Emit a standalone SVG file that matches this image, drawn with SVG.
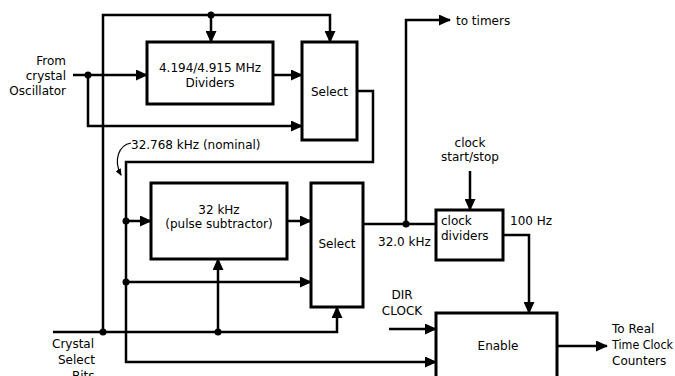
<svg xmlns="http://www.w3.org/2000/svg" width="675" height="376" viewBox="0 0 675 376">
<style>
.box{fill:#fff;stroke:#000;stroke-width:3}
.ln{fill:none;stroke:#000;stroke-width:2.5}
.thin{fill:none;stroke:#000;stroke-width:1.2}
text{font-family:"DejaVu Sans","Liberation Sans",sans-serif;font-size:12px;fill:#000}
.c{text-anchor:middle}
.r{text-anchor:end}
</style>
<defs>
<marker id="ah" markerUnits="userSpaceOnUse" markerWidth="12" markerHeight="11" refX="11" refY="5.5" orient="auto">
<path d="M0,0 L12,5.5 L0,11 z" fill="#000"/>
</marker>
<marker id="sh" markerUnits="userSpaceOnUse" markerWidth="7" markerHeight="6" refX="6" refY="3" orient="auto">
<path d="M0,0 L7,3 L0,6 z" fill="#000"/>
</marker>
</defs>
<rect width="675" height="376" fill="#fff"/>
<g id="connectors">
<path class="ln" d="M103,332 V15 H330 V42" marker-end="url(#ah)"/>
<path class="ln" d="M211,15 V42" marker-end="url(#ah)"/>
<path class="ln" d="M73,75 H147" marker-end="url(#ah)"/>
<path class="ln" d="M88,75 V126 H302" marker-end="url(#ah)"/>
<path class="ln" d="M273,75 H302" marker-end="url(#ah)"/>
<path class="ln" d="M357,91 H373 V162 H126 V362 H436" marker-end="url(#ah)"/>
<path class="ln" d="M126,221 H151" marker-end="url(#ah)"/>
<path class="ln" d="M126,282 H311" marker-end="url(#ah)"/>
<path class="ln" d="M287,221 H311" marker-end="url(#ah)"/>
<path class="ln" d="M53,332 H337 V307" marker-end="url(#ah)"/>
<path class="ln" d="M218,332 V259" marker-end="url(#ah)"/>
<path class="ln" d="M363,224 H436"/>
<path class="ln" d="M406,224 V20 H450" marker-end="url(#ah)"/>
<path class="ln" d="M470,171 V210" marker-end="url(#ah)"/>
<path class="ln" d="M503,235 H529 V313" marker-end="url(#ah)"/>
<path class="ln" d="M389,329 H436" marker-end="url(#ah)"/>
<path class="ln" d="M557,346 H607" marker-end="url(#ah)"/>
<path class="thin" d="M131,143 C119,145 113,160 121,175" marker-end="url(#sh)"/>
<circle cx="211" cy="15" r="3.5"/>
<circle cx="88" cy="75" r="3.5"/>
<circle cx="126" cy="221" r="3.5"/>
<circle cx="126" cy="282" r="3.5"/>
<circle cx="103" cy="332" r="3.5"/>
<circle cx="218" cy="332" r="3.5"/>
<circle cx="406" cy="224" r="3.5"/>
</g>
<g id="dividers">
<rect class="box" x="147" y="42" width="126" height="62"/>
<text class="c" x="210" y="72" textLength="102">4.194/4.915 MHz</text>
<text class="c" x="210" y="87">Dividers</text>
</g>
<g id="select1">
<rect class="box" x="302" y="42" width="55" height="98"/>
<text class="c" x="329.5" y="96">Select</text>
</g>
<g id="pulse">
<rect class="box" x="151" y="183" width="136" height="76"/>
<text class="c" x="219" y="214">32 kHz</text>
<text class="c" x="219" y="228">(pulse subtractor)</text>
</g>
<g id="select2">
<rect class="box" x="311" y="183" width="52" height="124"/>
<text class="c" x="337" y="248">Select</text>
</g>
<g id="clockdiv">
<rect class="box" x="436" y="210" width="67" height="50"/>
<text x="441" y="225">clock</text>
<text x="441" y="240">dividers</text>
</g>
<g id="enable">
<rect class="box" x="436" y="313" width="121" height="70"/>
<text class="c" x="498" y="350">Enable</text>
</g>
<g id="labels">
<text class="r" x="66" y="65">From</text>
<text class="r" x="66" y="80">crystal</text>
<text class="r" x="66" y="95">Oscillator</text>
<text x="131" y="149">32.768 kHz (nominal)</text>
<text x="456" y="25">to timers</text>
<text class="c" x="470" y="147">clock</text>
<text class="c" x="470" y="161">start/stop</text>
<text x="378" y="246">32.0 kHz</text>
<text x="510" y="225">100 Hz</text>
<text class="c" x="402" y="299">DIR</text>
<text class="c" x="402" y="315">CLOCK</text>
<text x="612" y="333">To Real</text>
<text x="612" y="349" textLength="61" lengthAdjust="spacingAndGlyphs">Time Clock</text>
<text x="612" y="365">Counters</text>
<text x="52" y="348">Crystal</text>
<text x="58" y="364">Select</text>
<text x="72" y="380">Bits</text>
</g>
</svg>
